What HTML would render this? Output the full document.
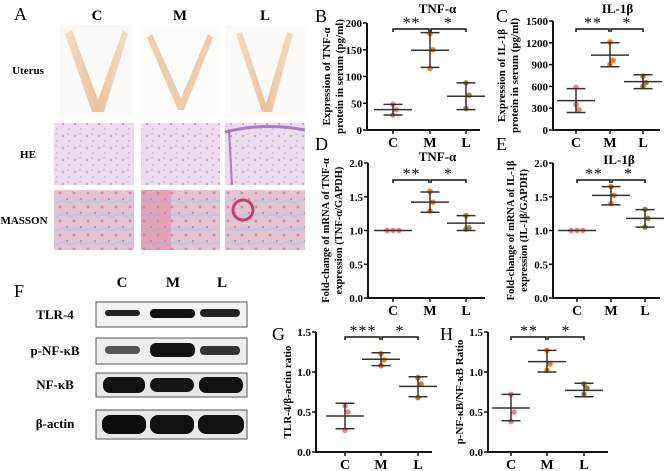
<!DOCTYPE html>
<html><head><meta charset="utf-8">
<style>
html,body{margin:0;padding:0;background:#fff;}
svg{display:block;font-family:"Liberation Serif",serif;}
</style></head>
<body>
<svg id="fig" width="669" height="471" viewBox="0 0 669 471" xmlns="http://www.w3.org/2000/svg">
<defs>
<linearGradient id="ut" x1="0" x2="1"><stop offset="0" stop-color="#f5dcc0"/><stop offset="0.5" stop-color="#ebc39e"/><stop offset="1" stop-color="#f5dcc0"/></linearGradient>
<pattern id="he" width="12" height="12" patternUnits="userSpaceOnUse"><rect width="12" height="12" fill="#ecdcee"/><circle cx="3" cy="4" r="1.2" fill="#c8a6d6"/><circle cx="9" cy="9" r="1" fill="#d4b4de"/><circle cx="8" cy="2" r="0.8" fill="#bea0d0"/></pattern>
<pattern id="ms" width="14" height="14" patternUnits="userSpaceOnUse"><rect width="14" height="14" fill="#e4c4d2"/><path d="M0 7 Q7 2 14 7" stroke="#b8c8e0" stroke-width="2" fill="none"/><circle cx="4" cy="11" r="1.5" fill="#da8aa0"/><circle cx="11" cy="3" r="1" fill="#d07890"/></pattern>
</defs>
<g font-weight="bold">
<text x="14" y="20" font-size="18" font-weight="normal">A</text>
<text x="97" y="20" font-size="15" text-anchor="middle">C</text>
<text x="180" y="20" font-size="15" text-anchor="middle">M</text>
<text x="265" y="20" font-size="15" text-anchor="middle">L</text>
<text x="28" y="74" font-size="11" text-anchor="middle">Uterus</text>
<text x="28" y="158" font-size="11" text-anchor="middle">HE</text>
<text x="24" y="224" font-size="11" text-anchor="middle">MASSON</text>
</g>
<g>
<rect x="60" y="25" width="73" height="92" fill="#fbf9f7"/>
<path d="M65 34 L72 30 L98 100 L123 30 L128 34 L104 112 L92 112 Z" fill="url(#ut)"/>
<rect x="142" y="25" width="78" height="92" fill="#fdfcfb"/>
<path d="M147 38 L152 34 L181 98 L208 34 L213 38 L184 110 L178 110 Z" fill="#ecccaa"/>
<rect x="225" y="25" width="80" height="92" fill="#fcfaf8"/>
<path d="M236 34 L242 32 L266 104 L287 32 L293 34 L272 112 L262 112 Z" fill="url(#ut)"/>
</g>
<g>
<rect x="54" y="123" width="80" height="62" fill="url(#he)"/>
<rect x="141" y="123" width="79" height="62" fill="url(#he)"/>
<rect x="225" y="123" width="80" height="62" fill="url(#he)"/>
<path d="M225 132 Q265 122 305 130" stroke="#a87cc0" stroke-width="3" fill="none"/>
<path d="M229 130 L232 185" stroke="#a87cc0" stroke-width="2"/>
</g>
<g>
<rect x="54" y="190" width="80" height="60" fill="url(#ms)"/>
<rect x="141" y="190" width="79" height="60" fill="url(#ms)"/>
<rect x="141" y="190" width="30" height="60" fill="#dc7c98" opacity="0.45"/>
<rect x="225" y="190" width="80" height="60" fill="url(#ms)"/>
<circle cx="243" cy="210" r="10" fill="none" stroke="#c8406a" stroke-width="3"/>
</g>
<g font-weight="bold">
<text x="14" y="297" font-size="18" font-weight="normal">F</text>
<text x="122" y="287" font-size="15" text-anchor="middle">C</text>
<text x="173" y="287" font-size="15" text-anchor="middle">M</text>
<text x="222" y="287" font-size="15" text-anchor="middle">L</text>
<text x="55" y="319" font-size="13" text-anchor="middle">TLR-4</text>
<text x="55" y="355" font-size="13" text-anchor="middle">p-NF-κB</text>
<text x="55" y="389" font-size="13" text-anchor="middle">NF-κB</text>
<text x="55" y="428" font-size="13" text-anchor="middle">β-actin</text>
<rect x="96" y="302" width="151" height="25" fill="#f2f2f2" stroke="#555"/>
<rect x="105" y="310" width="35" height="6" rx="3" fill="#222"/>
<rect x="150" y="309" width="45" height="9" rx="4" fill="#111"/>
<rect x="200" y="309" width="40" height="8" rx="4" fill="#222"/>
<rect x="96" y="338" width="151" height="26" fill="#eee" stroke="#555"/>
<rect x="105" y="346" width="35" height="8" rx="4" fill="#555"/>
<rect x="150" y="343" width="45" height="14" rx="6" fill="#111"/>
<rect x="200" y="346" width="40" height="9" rx="4" fill="#333"/>
<rect x="96" y="373" width="151" height="24" fill="#e8e8e8" stroke="#555"/>
<rect x="103" y="377" width="42" height="16" rx="7" fill="#111"/>
<rect x="150" y="378" width="44" height="14" rx="7" fill="#151515"/>
<rect x="199" y="377" width="44" height="16" rx="7" fill="#111"/>
<rect x="96" y="410" width="151" height="29" fill="#e8e8e8" stroke="#555"/>
<rect x="102" y="415" width="44" height="19" rx="8" fill="#0c0c0c"/>
<rect x="150" y="415" width="44" height="19" rx="8" fill="#111"/>
<rect x="198" y="415" width="46" height="19" rx="8" fill="#111"/>
</g>
<g id="charts"></g>
</svg>
<script>
// Panel B: TNF-α serum
const bC=[48,38,28], bM=[180,150,115], bL=[88,65,40];
const bMean=[38,149,63], bHi=[48,182,88], bLo=[28,117,38];
const bTicks=[0,50,100,150,200];
// Panel C: IL-1β serum
const cC=[590,280,350], cM=[1210,960,900], cL=[740,650,600];
const cMean=[405,1030,665], cHi=[570,1200,760], cLo=[240,870,570];
const cTicks=[0,300,600,900,1200,1500];
// Panel D: TNF-α mRNA
const dC=[1,1,1], dM=[1.58,1.42,1.29], dL=[1.22,1.04,1.02];
const dMean=[1,1.42,1.11], dHi=[1,1.57,1.22], dLo=[1,1.27,1.0];
const dTicks=[0,0.5,1.0,1.5,2.0];
// Panel E: IL-1β mRNA
const eC=[1,1,1], eM=[1.65,1.52,1.4], eL=[1.31,1.18,1.05];
const eMean=[1,1.52,1.18], eHi=[1,1.65,1.31], eLo=[1,1.38,1.05];
const eTicks=[0,0.5,1.0,1.5,2.0];
// Panel G: TLR-4/β-actin
const gC=[0.58,0.5,0.27], gM=[1.23,1.15,1.08], gL=[0.93,0.85,0.68];
const gMean=[0.45,1.16,0.82], gHi=[0.61,1.24,0.94], gLo=[0.29,1.08,0.69];
const gTicks=[0,0.5,1.0,1.5];
// Panel H: p-NF-κB/NF-κB
const hC=[0.72,0.5,0.38], hM=[1.27,1.1,1.02], hL=[0.85,0.8,0.72];
const hMean=[0.55,1.13,0.77], hHi=[0.72,1.27,0.86], hLo=[0.39,1.0,0.69];
const hTicks=[0,0.5,1.0,1.5];
const categories=["C","M","L"];
const colors=["#f38585","#ff7a10","#a08a3a"];
const NS="http://www.w3.org/2000/svg";
const root=document.getElementById("charts");
function el(tag,attrs,parent,txt){const e=document.createElementNS(NS,tag);for(const k in attrs)e.setAttribute(k,attrs[k]);if(txt!=null)e.textContent=txt;(parent||root).appendChild(e);return e;}
function chart(cfg){
  const g=el("g",{});
  
  
  const max=cfg.ticks[cfg.ticks.length-1];
  const y=v=>cfg.y0-(v/max)*(cfg.y0-cfg.yTop);
  const x=i=>cfg.xs[i];
  const ax=el("path",{d:`M${cfg.ax} ${cfg.yTop} V${cfg.y0} H${cfg.xEnd}`,stroke:"#111","stroke-width":2,fill:"none"},g);
  
  
  cfg.ticks.forEach(t=>{
    el("line",{x1:cfg.ax-4,x2:cfg.ax,y1:y(t),y2:y(t),stroke:"#111","stroke-width":1.5},g);
    const tl=el("text",{x:cfg.ax-5,y:y(t)+4,"font-size":11,"font-weight":"bold","text-anchor":"end"},g,cfg.fmt(t));
    
    
  });
  categories.forEach((c,i)=>{
    el("line",{x1:x(i),x2:x(i),y1:cfg.y0,y2:cfg.y0+4,stroke:"#111","stroke-width":1.5},g);
    const cl=el("text",{x:x(i),y:cfg.y0+17,"font-size":14,"font-weight":"bold","text-anchor":"middle"},g,c);
    
    
  });
  const pts=[cfg.C,cfg.M,cfg.L];
  pts.forEach((arr,i)=>{
    const spread=arr.every(v=>v===arr[0]);
    arr.forEach((v,j)=>{
      const dx=spread?(j-1)*6:(j===1?3:0);
      const p=el("circle",{cx:x(i)+dx,cy:y(v),r:2.8,fill:colors[i]},g);
      
      
    });
    const w=cfg.w||19;
    const eb=el("path",{d:`M${x(i)-w} ${y(cfg.mean[i])} H${x(i)+w} M${x(i)-w/2} ${y(cfg.hi[i])} H${x(i)+w/2} M${x(i)-w/2} ${y(cfg.lo[i])} H${x(i)+w/2} M${x(i)} ${y(cfg.hi[i])} V${y(cfg.lo[i])}`,stroke:"#333","stroke-width":1.5,fill:"none"},g);
    
    
  });
  const sy=cfg.sigY;
  el("path",{d:`M${x(0)} ${sy+3} V${sy} H${x(1)-1} V${sy+3} M${x(1)+1} ${sy+3} V${sy} H${x(2)} V${sy+3}`,stroke:"#111","stroke-width":1.5,fill:"none"},g);
  const s1=el("text",{x:(x(0)+x(1))/2,y:sy-1,"font-size":16,"text-anchor":"middle","letter-spacing":"1"},g,cfg.sig1);
  
  
  const s2=el("text",{x:(x(1)+x(2))/2,y:sy-1,"font-size":16,"text-anchor":"middle"},g,"*");
  
  
  if(cfg.title){const t=el("text",{x:(x(0)+x(2))/2+8,y:cfg.titleY,"font-size":13,"font-weight":"bold","text-anchor":"middle"},g,cfg.title);
    
    }
  const pl=el("text",{x:cfg.lx,y:cfg.ly,"font-size":18},g,cfg.letter);
  
  
  const cy=(cfg.y0+cfg.yTop)/2;
  cfg.ylab.forEach((line,k)=>{
    const yl=el("text",{x:0,y:0,"font-size":cfg.ylfs||11,"font-weight":"bold","text-anchor":"middle",transform:`translate(${cfg.ylx+k*13},${cy}) rotate(-90)`},g,line);
    
    
  });
}
const f0=v=>String(v), f1=v=>v.toFixed(1);
chart({id:"b",ax:367,y0:130,yTop:23,xEnd:480,xs:[393,430,466],ticks:bTicks,fmt:f0,C:bC,M:bM,L:bL,mean:bMean,hi:bHi,lo:bLo,sigY:29,sig1:"**",title:"TNF-α",titleY:13,letter:"B",lx:315,ly:22,ylab:["Expression of TNF-α","protein in serum (pg/ml)"],ylx:330});
chart({id:"c",ax:553,y0:130,yTop:21,xEnd:660,xs:[576,610,643],ticks:cTicks,fmt:f0,C:cC,M:cM,L:cL,mean:cMean,hi:cHi,lo:cLo,sigY:29,sig1:"**",title:"IL-1β",titleY:13,letter:"C",lx:496,ly:22,ylab:["Expression of IL-1β","protein in serum (pg/ml)"],ylx:505});
chart({id:"d",ax:368,y0:298,yTop:163,xEnd:485,xs:[393,430,466],ticks:dTicks,fmt:f1,C:dC,M:dM,L:dL,mean:dMean,hi:dHi,lo:dLo,sigY:180,sig1:"**",title:"TNF-α",titleY:161,letter:"D",lx:315,ly:150,ylab:["Fold-change of mRNA of TNF-α","expression (TNF-α/GAPDH)"],ylx:329,ylfs:10.5});
chart({id:"e",ax:553,y0:298,yTop:163,xEnd:660,xs:[577,611,645],ticks:eTicks,fmt:f1,C:eC,M:eM,L:eL,mean:eMean,hi:eHi,lo:eLo,sigY:180,sig1:"**",title:"IL-1β",titleY:164,letter:"E",lx:496,ly:150,ylab:["Fold-change of mRNA of IL-1β","expression (IL-1β/GAPDH)"],ylx:514,ylfs:10.5});
chart({id:"g",ax:316,y0:452,yTop:332,xEnd:432,xs:[345,381,418],ticks:gTicks,fmt:f1,C:gC,M:gM,L:gL,mean:gMean,hi:gHi,lo:gLo,sigY:337,sig1:"***",title:null,letter:"G",lx:272,ly:340,ylab:["TLR-4/β-actin ratio"],ylx:291,ylfs:11});
chart({id:"h",ax:488,y0:452,yTop:332,xEnd:608,xs:[511,547,584],ticks:hTicks,fmt:f1,C:hC,M:hM,L:hL,mean:hMean,hi:hHi,lo:hLo,sigY:337,sig1:"**",title:null,letter:"H",lx:440,ly:340,ylab:["p-NF-κB/NF-κB Ratio"],ylx:463,ylfs:11});
</script>
</body></html>
